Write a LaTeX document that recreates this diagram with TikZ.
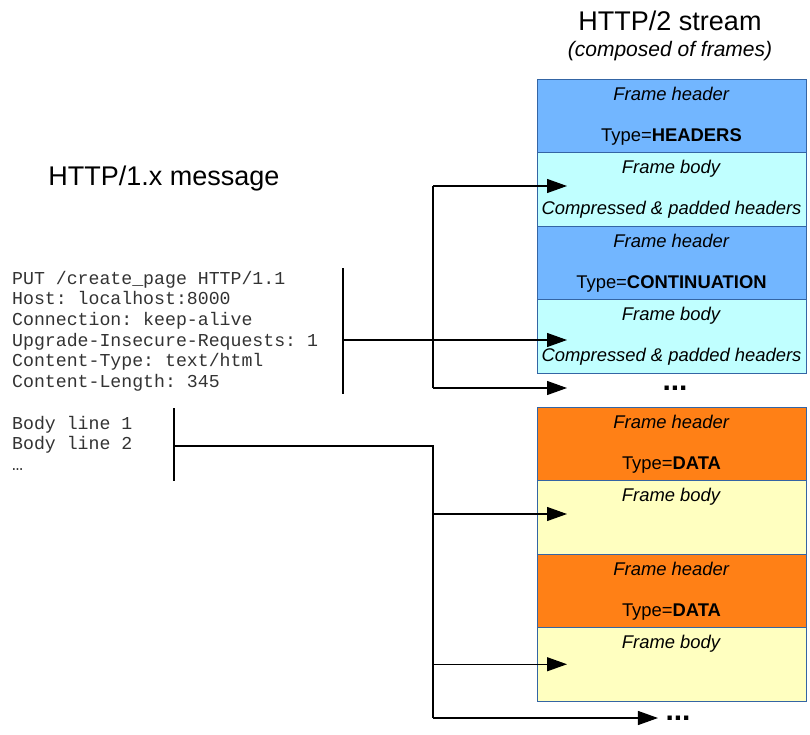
\documentclass[tikz,border=0pt]{standalone}
\usepackage{fontspec}
\setmainfont{Liberation Sans}
\setmonofont{Liberation Mono}
\usetikzlibrary{positioning,arrows.meta}
\definecolor{hdrblue}{RGB}{114,182,255}
\definecolor{bodycyan}{RGB}{192,255,255}
\definecolor{hdrorange}{RGB}{255,128,22}
\definecolor{bodyyellow}{RGB}{255,255,192}
\definecolor{edgeblue}{RGB}{52,101,164}

\begin{document}
\begin{tikzpicture}[x=1pt,y=-1pt,
		framebox/.style={draw=edgeblue,line width=0.8pt,outer sep=0pt,minimum width=269pt,minimum height=73.5pt,inner sep=0pt,align=center,font=\fontsize{18.4}{41}\selectfont,execute at begin node={\rule{0pt}{17.5pt}}},
		hdrnode/.style={framebox,fill=hdrblue},
		hbodynode/.style={framebox,fill=bodycyan},
		datanode/.style={framebox,fill=hdrorange},
		dbodynode/.style={framebox,fill=bodyyellow},
		msgtext/.style={anchor=north west,inner sep=0pt,align=left,text=black!80,font=\fontsize{18.2}{20.6}\selectfont\ttfamily},
		dots/.style={font=\fontsize{30}{30}\selectfont\bfseries},
		link/.style={line width=1.2pt},
		arr/.style={link,-{Triangle[length=20pt,width=14pt]}}]
			\useasboundingbox (0,0) rectangle (810,735);

			\node[font=\fontsize{27}{30}\selectfont]								(t2)	at (670,21)	{HTTP/2 stream};
			\node[font=\fontsize{21}{24}\selectfont\itshape,node distance=3pt,below=of t2]	(t2s)	{(composed of frames)};
			\node[font=\fontsize{27}{30}\selectfont]								(t1)	at (164,179)	{HTTP/1.x message};

			\node[hdrnode]											(h1)	at (671.5,115.75)	{\textit{Frame header}\\Type=\textbf{HEADERS}};
			\node[hbodynode,node distance=0pt,below=of h1]			(b1)	{\textit{Frame body}\\\textit{Compressed \& padded headers}};
			\node[hdrnode,node distance=0pt,below=of b1]				(h2)	{\textit{Frame header}\\Type=\textbf{CONTINUATION}};
			\node[hbodynode,node distance=0pt,below=of h2]			(b2)	{\textit{Frame body}\\\textit{Compressed \& padded headers}};
			\node[dots]											(d1)	at (675,388)	{...};

			\node[datanode,node distance=34pt,below=of b2]			(h3)	{\textit{Frame header}\\Type=\textbf{DATA}};
			\node[dbodynode,node distance=0pt,below=of h3]			(b3)	{\textit{Frame body}\\\vphantom{Cp}};
			\node[datanode,node distance=0pt,below=of b3]			(h4)	{\textit{Frame header}\\Type=\textbf{DATA}};
			\node[dbodynode,node distance=0pt,below=of h4]			(b4)	{\textit{Frame body}\\\vphantom{Cp}};
			\node[dots]											(d2)	at (678,718)	{...};

			\node[msgtext]	(hdrs)	at (12,271)	{PUT /create\_page HTTP/1.1\\Host: localhost:8000\\Connection: keep-alive\\Upgrade-Insecure-Requests: 1\\Content-Type: text/html\\Content-Length: 345};
			\node[msgtext]	(body)	at (12,416)	{Body line 1\\Body line 2\\…};

			\coordinate (hb) at (343,268);
			\coordinate (he) at (343,394);
			\coordinate (bb) at (174,408);
			\coordinate (be) at (174,481);
			\coordinate (sp) at (433,0);
			\coordinate (tip) at (567,0);

			% headers go to the HEADERS and CONTINUATION frames
			\draw[link] (hb) -- (he);
			\draw[arr] (hb |- 0,340) -- (tip |- 0,340);
			\draw[link] (sp |- 0,186) -- (sp |- d1);
			\draw[arr] (sp |- 0,186) -- (tip |- 0,186);
			\draw[arr] (sp |- d1) -- (tip |- d1);

			% body goes to the DATA frames
			\draw[link] (bb) -- (be);
			\draw[link] (bb |- 0,446) -- (sp |- 0,446) -- (sp |- d2);
			\draw[arr] (sp |- 0,514) -- (tip |- 0,514);
			\draw[arr] (sp |- b4.west) -- (tip |- b4.west);
			\draw[arr] (sp |- d2) -- ([xshift=-4pt]d2.west);
		\end{tikzpicture}
\end{document}
